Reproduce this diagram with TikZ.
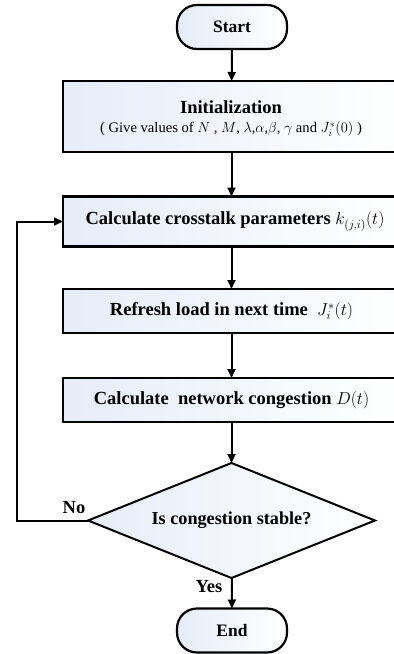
\documentclass[tikz,border=0pt]{standalone}
\usepackage{fontspec}
\setmainfont{Liberation Serif}
\usetikzlibrary{shapes.geometric,arrows.meta}
\definecolor{lb}{RGB}{230,236,248}
\begin{document}
\begin{tikzpicture}[x=1pt,y=-1pt,
  every node/.style={inner sep=0pt,outer sep=0pt},
  term/.style={draw,line width=2.2pt,rounded corners=20pt,minimum width=110pt,minimum height=44pt,left color=lb,right color=white,font=\bfseries\fontsize{17.5}{20}\selectfont},
  proc/.style={draw,line width=2.2pt,minimum width=337pt,left color=lb,right color=white,font=\bfseries\fontsize{18.5}{22}\selectfont},
  dec/.style={draw,line width=2pt,diamond,aspect=2.5,minimum width=287pt,minimum height=115pt,inner sep=0pt,left color=lb,right color=white,font=\bfseries\fontsize{18.2}{22}\selectfont},
  arr/.style={line width=2pt,-{Triangle[length=9pt,width=8pt]}},
  lbl/.style={font=\bfseries\fontsize{18.5}{22}\selectfont}]
\clip (0,0) rectangle (394,654);
\fill[white] (0,0) rectangle (394,654);
\node[term] (start) at (232,27) {Start};
\node[proc,minimum height=71pt] (init) at (231.5,116.5) {};
\node[lbl] (inittxt) at (231,107.5) {Initialization};
\node[font=\fontsize{14.6}{17}\selectfont] (initsub) at (231,129) {( Give values of $N$ , $M$, $\lambda$,$\alpha$,$\beta$, $\gamma$ and $J_i^*(0)$ )};
\node[proc,minimum height=50pt] (cross) at (231.5,221.5) {\hspace*{7pt}Calculate crosstalk parameters $k_{(j,i)}(t)$};
\node[proc,minimum height=44pt] (refresh) at (231.5,311) {Refresh load in next time\ \ $J_i^*(t)$};
\node[proc,minimum height=44pt] (cong) at (231.5,400) {Calculate\ \ network congestion $D(t)$};
\node[dec] (stable) at (231.5,520.5) {Is congestion stable?};
\node[term] (end) at (232,630.5) {End};
\coordinate (c1) at (17,520.5);
\coordinate (c2) at (17,221.5);
\draw[arr] (start) -- (init);
\draw[arr] (init) -- (cross);
\draw[arr] (cross) -- (refresh);
\draw[arr] (refresh) -- (cong);
\draw[arr] (cong) -- (stable);
\draw[arr] (stable) -- (end);
\draw[arr] (stable.west) -- (c1) -- (c2) -- (cross.west);
\node[lbl] (no) at (74,508) {No};
\node[lbl] (yes) at (209,587) {Yes};
\end{tikzpicture}
\end{document}
